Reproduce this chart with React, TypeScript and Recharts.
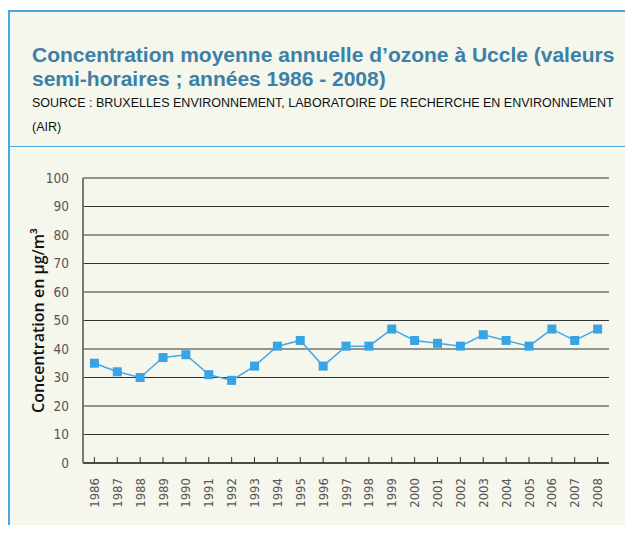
import { LineChart, Line, XAxis, YAxis, CartesianGrid } from 'recharts'

const years = [
  '1986', '1987', '1988', '1989', '1990', '1991', '1992', '1993', '1994', '1995', '1996', '1997',
  '1998', '1999', '2000', '2001', '2002', '2003', '2004', '2005', '2006', '2007', '2008',
]
const ozone = [35, 32, 30, 37, 38, 31, 29, 34, 41, 43, 34, 41, 41, 47, 43, 42, 41, 45, 43, 41, 47, 43, 47]
const yTicks = [0, 10, 20, 30, 40, 50, 60, 70, 80, 90, 100]

const data = years.map((year, i) => ({ year, ozone: ozone[i] }))

const BLUE = '#4aa8e0'
const MARKER = '#38a4e6'
const TITLE = '#3b80a8'
const BG = '#f5f6ec'
const TICK_FONT = "'DejaVu Sans Condensed', 'DejaVu Sans', sans-serif"

function YearTick({ x, y, payload }: any) {
  return (
    <text
      x={0}
      y={0}
      dy="0.35em"
      transform={`translate(${x},${y}) rotate(-90)`}
      textAnchor="end"
      fill="#555"
      fontSize={13}
      fontFamily={TICK_FONT}
    >
      {payload.value}
    </text>
  )
}

function SquareDot({ cx, cy, index }: any) {
  return <rect key={index} x={cx - 4.5} y={cy - 4.5} width={9} height={9} fill={MARKER} />
}

export default function App() {
  return (
    <div
      style={{
        position: 'relative', width: 633, height: 533, margin: -8,
        background: '#fff', fontFamily: "'Liberation Sans', Arial, sans-serif", overflow: 'hidden',
      }}
    >
      <div
        style={{
          position: 'absolute', left: 8, top: 10, right: 0, bottom: 0,
          borderLeft: `2px solid ${BLUE}`, borderTop: `2px solid ${BLUE}`, background: BG,
        }}
      />
      <div style={{ position: 'absolute', left: 9, right: 0, top: 146, borderTop: `1.5px solid ${BLUE}` }} />
      <div
        style={{
          position: 'absolute', left: 32, top: 43, width: 600, fontSize: 21, fontWeight: 'bold',
          lineHeight: '24px', color: TITLE,
        }}
      >
        Concentration moyenne annuelle d’ozone à Uccle (valeurs semi-horaires ; années 1986 - 2008)
      </div>
      <div style={{ position: 'absolute', left: 32, top: 91, width: 590, fontSize: 12.5, lineHeight: '24px', color: '#111' }}>
        SOURCE : BRUXELLES ENVIRONNEMENT, LABORATOIRE DE RECHERCHE EN ENVIRONNEMENT (AIR)
      </div>
      <div style={{ position: 'absolute', left: 0, top: 0 }}>
        <LineChart width={633} height={533} data={data} margin={{ top: 178, right: 24, bottom: 10, left: 23 }}>
          <CartesianGrid vertical={false} stroke="#333" />
          <XAxis
            dataKey="year"
            interval={0}
            height={60}
            padding={{ left: 11.4, right: 11.4 }}
            axisLine={{ stroke: '#333', strokeWidth: 1.5 }}
            tickLine={{ stroke: '#333' }}
            tickSize={-6}
            tickMargin={21}
            tick={<YearTick />}
          />
          <YAxis
            width={60}
            domain={[0, 100]}
            ticks={yTicks}
            interval={0}
            axisLine={{ stroke: '#777', strokeWidth: 2 }}
            tickLine={false}
            tickMargin={8}
            tick={{ fill: '#555', fontSize: 13.5, fontFamily: TICK_FONT }}
            label={{
              value: 'Concentration en µg/m³',
              angle: -90,
              position: 'insideLeft',
              dx: 10,
              style: {
                textAnchor: 'middle', fontWeight: 600, fontSize: 16, fill: '#111',
                fontFamily: "'Open Sans', sans-serif",
              },
            }}
          />
          <Line
            dataKey="ozone"
            stroke={BLUE}
            strokeWidth={1.5}
            dot={<SquareDot />}
            isAnimationActive={false}
          />
        </LineChart>
      </div>
    </div>
  )
}
